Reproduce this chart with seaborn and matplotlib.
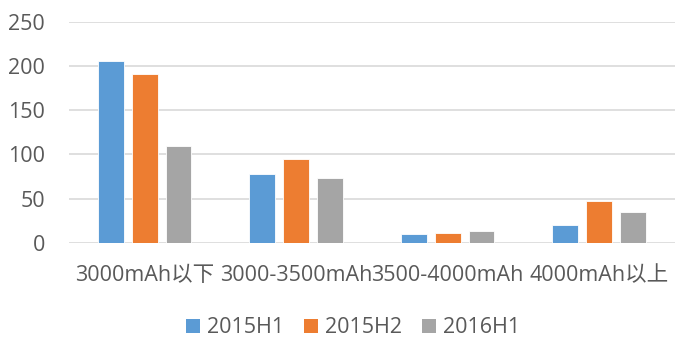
import matplotlib
matplotlib.use("Agg")
import matplotlib.pyplot as plt
import seaborn as sns
import pandas as pd
from matplotlib.patches import Patch

categories = ["3000mAh以下", "3000-3500mAh", "3500-4000mAh", "4000mAh以上"]
series_names = ["2015H1", "2015H2", "2016H1"]
v_2015h1 = [206, 78, 10, 20]
v_2015h2 = [191, 95, 11, 47]
v_2016h1 = [109, 73, 14, 35]
colors = ["#5B9BD5", "#ED7D31", "#A5A5A5"]
y_ticks = [0, 50, 100, 150, 200, 250]

sns.set_theme(style="white")
plt.rcParams["font.family"] = ["Open Sans", "Noto Sans CJK SC", "DejaVu Sans"]

rows = []
for name, vals in zip(series_names, [v_2015h1, v_2015h2, v_2016h1]):
    for cat, v in zip(categories, vals):
        rows.append({"category": cat, "series": name, "value": v})
df = pd.DataFrame(rows)

fig = plt.figure(figsize=(6.75, 3.38), dpi=100)
ax = fig.add_axes([0.102, 0.281, 0.898, 0.655])

sns.barplot(data=df, x="category", y="value", hue="series", order=categories,
            hue_order=series_names, palette=colors, saturation=1, width=0.67,
            gap=0.235, edgecolor="white", linewidth=0.6, ax=ax, legend=False,
            zorder=3)

ax.set_ylim(0, 250)
ax.set_xlim(-0.5, 3.5)
ax.set_yticks(y_ticks)
ax.yaxis.grid(True, color="#D9D9D9", linewidth=1.2, zorder=0)
ax.set_axisbelow(True)
for s in ax.spines.values():
    s.set_visible(False)
ax.set_xlabel("")
ax.set_ylabel("")
ax.tick_params(axis="y", length=0, pad=17, labelsize=15.5, labelcolor="#595959")
ax.tick_params(axis="x", length=0, pad=16, labelsize=15.5, labelcolor="#595959")

handles = [Patch(facecolor=c, edgecolor="none") for c in colors]
fig.legend(handles, series_names, loc="center", bbox_to_anchor=(0.523, 0.03),
           ncol=3, frameon=False, fontsize=15.5, handlelength=0.65,
           handleheight=0.65, handletextpad=0.3, columnspacing=0.95,
           labelcolor="#595959")

fig.savefig("out.png", dpi=100)
